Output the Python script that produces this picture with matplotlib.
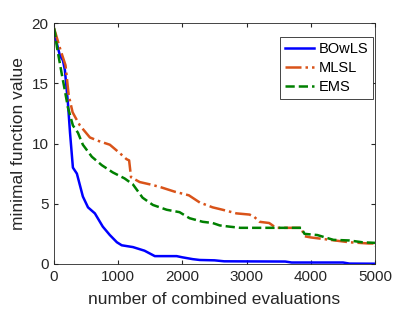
#!/usr/bin/env python3
"""
Convergence plot: minimal function value vs number of combined evaluations
"""

import matplotlib
matplotlib.use('Agg')
import matplotlib.pyplot as plt

# BOwLS
bowls_x = [0, 50, 93, 140, 170, 217, 250, 295, 357, 450, 530, 637, 760, 870,
           980, 1055, 1230, 1410, 1570, 1910, 2000, 2160, 2270, 2500, 2650,
           3600, 3700, 4500, 4600, 5000]
bowls_y = [19.5, 18.2, 17.3, 16.9, 16.1, 13.4, 10.9, 8.0, 7.5, 5.6, 4.7, 4.2,
           3.1, 2.4, 1.8, 1.55, 1.4, 1.1, 0.65, 0.65, 0.55, 0.4, 0.33, 0.3,
           0.22, 0.2, 0.12, 0.12, 0.03, 0.02]

# MLSL
mlsl_x = [0, 100, 180, 230, 290, 330, 404, 560, 700, 870, 1025, 1130, 1170,
          1200, 1335, 1500, 1646, 1880, 2100, 2270, 2470, 2625, 2840, 3045,
          3120, 3200, 3350, 3430, 3480, 3850, 3900, 4000, 4300, 4600, 4900,
          4990, 5000]
mlsl_y = [19.6, 17.8, 16.5, 14.0, 12.6, 12.2, 11.5, 10.5, 10.2, 9.9, 9.2, 8.7,
          8.6, 7.2, 6.8, 6.6, 6.4, 6.0, 5.7, 5.1, 4.7, 4.5, 4.2, 4.1, 3.9, 3.5,
          3.4, 3.1, 3.0, 3.0, 2.3, 2.2, 2.0, 1.8, 1.7, 1.7, 1.45]

# EMS
ems_x = [0, 16, 47, 124, 170, 217, 295, 373, 450, 590, 745, 916, 1100, 1230,
         1380, 1540, 1755, 1955, 2110, 2315, 2470, 2580, 2730, 2900, 3850,
         3900, 4100, 4350, 4600, 4800, 5000]
ems_y = [19.6, 19.2, 18.0, 15.7, 14.4, 13.0, 11.5, 10.9, 9.9, 8.9, 8.2, 7.6,
         7.1, 6.6, 5.5, 4.9, 4.5, 4.3, 3.8, 3.5, 3.4, 3.2, 3.1, 3.0, 3.0, 2.5,
         2.4, 2.0, 1.95, 1.8, 1.75]

xticks = [0, 1000, 2000, 3000, 4000, 5000]
yticks = [0, 5, 10, 15, 20]

plt.rcParams['font.family'] = ['Liberation Sans', 'DejaVu Sans']

fig = plt.figure(figsize=(4.15, 3.12), dpi=100)
ax = fig.add_axes([0.130, 0.154, 0.774, 0.772])

ax.plot(bowls_x, bowls_y, color='#0000ff', lw=1.8, label='BOwLS')
ax.plot(mlsl_x, mlsl_y, color='#d95319', lw=1.8, ls='-.', label='MLSL')
ax.plot(ems_x, ems_y, color='#008000', lw=1.8, ls='--', label='EMS')

ax.set_xlim(0, 5000)
ax.set_ylim(0, 20)
ax.set_xticks(xticks)
ax.set_yticks(yticks)
ax.tick_params(direction='in', top=True, right=True, labelsize=11,
               color='#262626', labelcolor='#262626', length=3, pad=4)
for sp in ax.spines.values():
    sp.set_color('#262626')
    sp.set_linewidth(0.6)

ax.set_xlabel('number of combined evaluations', fontsize=12.5,
              color='#262626', labelpad=6)
ax.set_ylabel('minimal function value', fontsize=12.5, color='#262626',
              labelpad=4)

leg = ax.legend(loc='upper right', bbox_to_anchor=(0.994, 0.942),
                borderaxespad=0, fontsize=10.5, fancybox=False,
                edgecolor='#262626', framealpha=1, handlelength=2.0,
                handletextpad=0.3, labelspacing=0.35, borderpad=0.35)
leg.get_frame().set_linewidth(0.6)

fig.savefig('out.png', dpi=100)
